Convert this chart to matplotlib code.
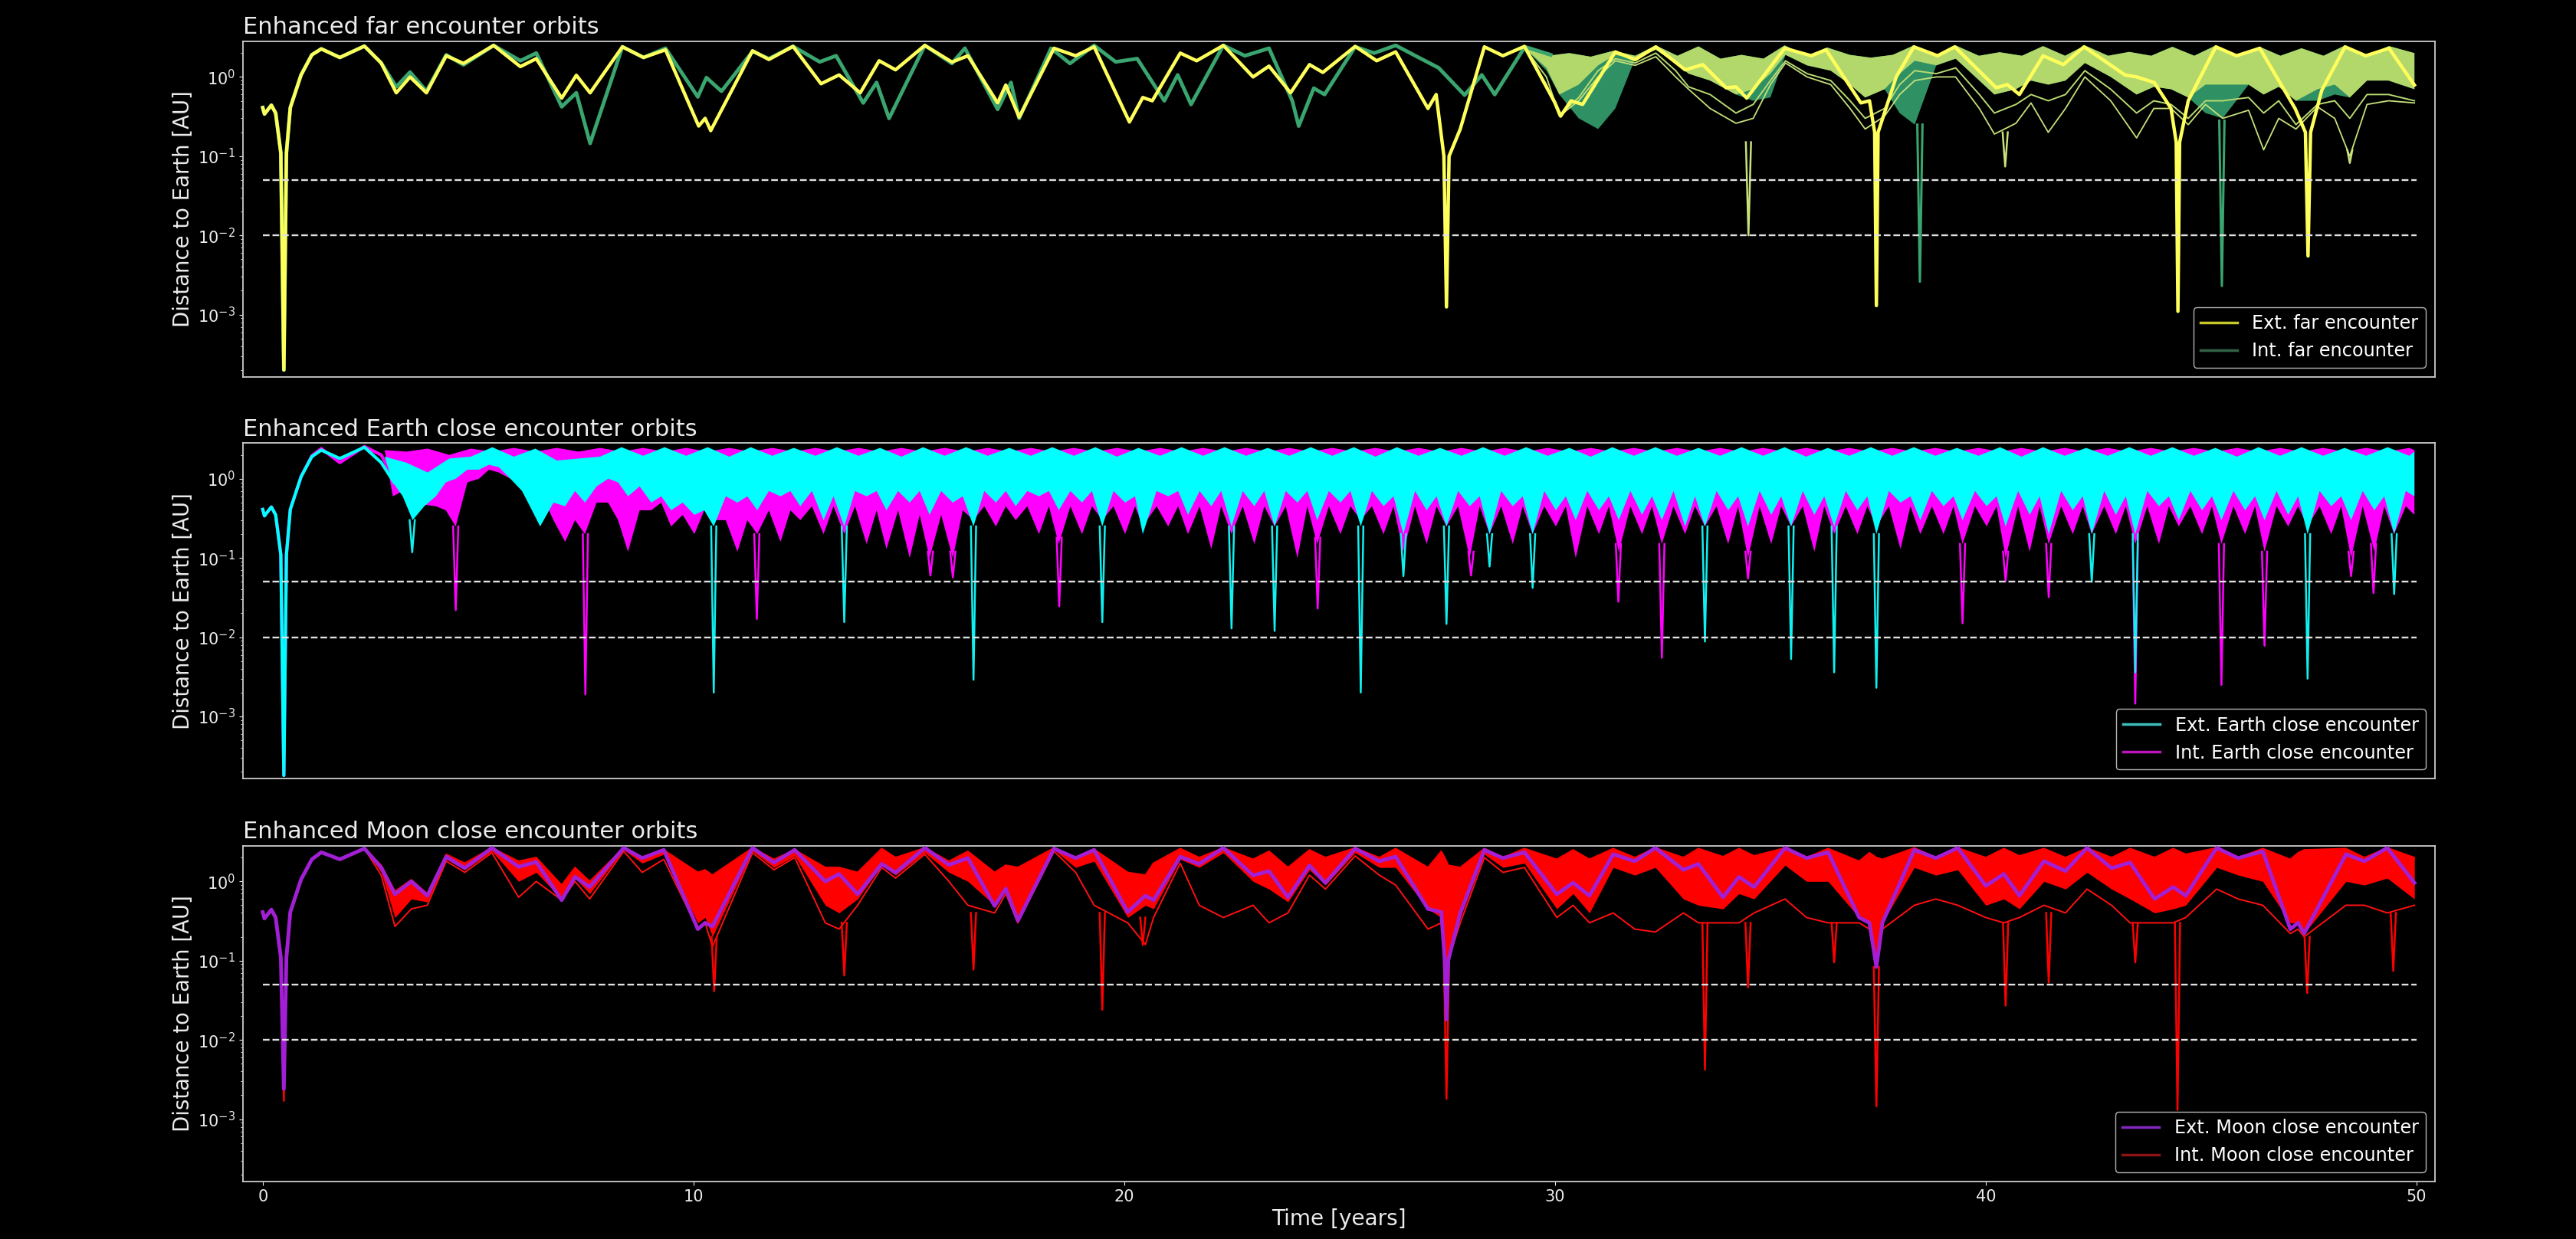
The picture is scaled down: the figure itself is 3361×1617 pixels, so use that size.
import numpy as np
import matplotlib
matplotlib.use("Agg")
import matplotlib.pyplot as plt
from matplotlib.lines import Line2D

plt.style.use("dark_background")

# ---------------- far encounter orbits ----------------
far_ext_t = [0.0, 0.04, 0.2, 0.3, 0.42, 0.49, 0.55, 0.64, 0.89, 1.14,
             1.36, 1.79, 2.36, 2.75, 3.10, 3.42, 3.80, 4.26, 4.66, 5.36,
             5.98, 6.35, 6.94, 7.28, 7.60, 8.35, 8.84, 9.35, 10.12, 10.27,
             10.40, 11.37, 11.75, 12.31, 12.96, 13.38, 13.87, 14.31, 14.69, 15.37,
             16.0, 16.37, 17.06, 17.25, 17.56, 18.37, 18.87, 19.3, 20.12, 20.43,
             20.65, 21.3, 21.68, 22.3, 22.99, 23.36, 23.86, 24.3, 24.61, 25.36,
             25.86, 26.3, 27.05, 27.24, 27.42, 27.48, 27.54, 27.8, 28.36, 28.79,
             29.29, 30.0, 30.13, 30.37, 30.64, 31.4, 31.86, 32.34, 33.02, 33.43,
             33.97, 34.2, 34.45, 35.33, 35.95, 36.29, 37.1, 37.3, 37.42, 37.46,
             37.5, 37.92, 38.33, 38.88, 39.28, 40.24, 40.5, 40.78, 41.33, 41.8,
             42.28, 43.23, 43.5, 43.91, 44.3, 44.42, 44.46, 44.5, 44.7, 45.34,
             45.82, 46.36, 47.18, 47.42, 47.48, 47.54, 47.8, 48.34, 48.82, 49.36,
             49.95]
far_ext_d = [0.41, 0.34, 0.44, 0.35, 0.11, 2.0e-4, 0.11, 0.41, 1.06, 1.9,
             2.26, 1.76, 2.45, 1.5, 0.63, 1.0, 0.63, 1.85, 1.48, 2.5,
             1.35, 1.7, 0.54, 1.05, 0.63, 2.4, 1.76, 2.2, 0.24, 0.3,
             0.21, 2.14, 1.66, 2.43, 0.82, 1.06, 0.63, 1.6, 1.23, 2.5,
             1.54, 1.85, 0.47, 0.79, 0.31, 2.3, 1.85, 2.4, 0.27, 0.55,
             0.5, 2.0, 1.6, 2.5, 1.0, 1.37, 0.63, 1.43, 1.14, 2.43,
             1.6, 2.07, 0.4, 0.6, 0.1, 1.25e-3, 0.1, 0.22, 2.4, 1.85,
             2.43, 0.47, 0.32, 0.5, 0.45, 2.07, 1.65, 2.4, 1.23, 1.43,
             0.73, 0.75, 0.54, 2.3, 1.85, 2.2, 0.47, 0.5, 0.2, 1.3e-3,
             0.2, 1.0, 2.4, 1.85, 2.4, 0.73, 0.8, 0.6, 1.85, 1.43,
             2.4, 1.06, 1.0, 0.85, 0.4, 0.15, 1.1e-3, 0.15, 0.5, 2.4,
             1.85, 2.3, 0.4, 0.2, 5.5e-3, 0.2, 0.68, 2.4, 1.85, 2.3,
             0.79]

far_int_t = [0.0, 0.04, 0.2, 0.3, 0.42, 0.49, 0.55, 0.64, 0.89, 1.14,
             1.36, 1.79, 2.36, 2.75, 3.10, 3.42, 3.80, 4.26, 4.66, 5.36,
             5.98, 6.35, 6.94, 7.28, 7.60, 8.35, 8.84, 9.35, 10.1, 10.3,
             10.65, 11.37, 11.75, 12.31, 12.93, 13.31, 13.94, 14.25, 14.54, 15.37,
             16.0, 16.3, 17.06, 17.37, 17.56, 18.3, 18.74, 19.3, 19.8, 20.3,
             20.93, 21.24, 21.55, 22.3, 22.8, 23.36, 23.9, 24.05, 24.4, 24.65,
             25.36, 25.8, 26.3, 26.8, 27.3, 27.9, 28.3, 28.6, 29.3, 29.9]
far_int_d = [0.41, 0.34, 0.44, 0.35, 0.11, 2.0e-4, 0.11, 0.41, 1.06, 1.9,
             2.26, 1.76, 2.45, 1.5, 0.75, 1.15, 0.66, 1.9, 1.42, 2.5,
             1.6, 2.0, 0.42, 0.63, 0.145, 2.4, 1.76, 2.3, 0.56, 0.98,
             0.66, 2.1, 1.7, 2.43, 1.55, 1.85, 0.47, 0.85, 0.3, 2.5,
             1.48, 2.3, 0.39, 0.85, 0.3, 2.3, 1.48, 2.5, 1.55, 1.7,
             0.5, 1.06, 0.45, 2.5, 1.85, 2.3, 0.5, 0.24, 0.72, 0.6,
             2.4, 2.0, 2.5, 1.8, 1.3, 0.59, 1.06, 0.6, 2.4, 1.9]

# upper envelope of the spread-out orbits (t > 29)
far_env_t = [29.29, 29.83, 30.33, 30.83, 31.36, 31.86, 32.34, 32.84, 33.33, 33.84,
             34.33, 34.84, 35.33, 35.84, 36.32, 36.84, 37.33, 37.84, 38.33, 38.84,
             39.3, 39.84, 40.32, 40.84, 41.33, 41.84, 42.3, 42.84, 43.33, 43.84,
             44.33, 44.84, 45.34, 45.84, 46.36, 46.84, 47.33, 47.84, 48.34, 48.84,
             49.36, 49.95]
far_env_d = [2.43, 1.85, 2.0, 1.8, 2.14, 1.85, 2.5, 1.85, 2.43, 1.7,
             1.9, 1.7, 2.5, 1.85, 2.35, 1.9, 1.75, 1.9, 2.5, 1.85,
             2.5, 1.85, 2.05, 1.85, 2.45, 1.85, 2.5, 1.85, 2.07, 1.85,
             2.4, 1.85, 2.5, 1.85, 2.4, 1.85, 2.3, 1.85, 2.5, 1.85,
             2.45, 2.0]
# lower edges of the spread: dense part, then two thin outlying orbits
far_band_t = [29.3, 29.8, 30.1, 30.55, 31.0, 31.4, 31.86, 32.34, 32.8, 33.1,
              33.6, 34.2, 34.6, 35.0, 35.35, 35.85, 36.4, 36.85, 37.2, 37.65,
              38.0, 38.35, 38.85, 39.3, 39.85, 40.2, 40.7, 41.05, 41.45, 41.85,
              42.3, 42.9, 43.5, 43.9, 44.3, 44.7, 45.1, 45.5, 46.1, 46.45,
              46.8, 47.2, 47.7, 48.1, 48.45, 48.85, 49.35, 49.95]
far_ext_core = [2.3, 1.3, 0.6, 0.8, 1.4, 1.9, 1.7, 2.2, 1.5, 1.1,
                0.9, 0.6, 0.7, 1.1, 1.9, 1.4, 1.2, 0.8, 0.55, 0.7,
                1.1, 1.6, 1.4, 1.7, 0.9, 0.6, 0.7, 0.9, 0.8, 0.9,
                1.5, 1.0, 0.6, 0.75, 0.7, 0.55, 0.8, 0.8, 0.8, 0.6,
                0.75, 0.5, 0.7, 0.8, 0.55, 0.9, 0.9, 0.7]
far_ext_mid = [2.3, 1.0, 0.33, 0.55, 1.2, 1.7, 1.5, 2.0, 1.2, 0.75,
               0.6, 0.35, 0.45, 0.9, 1.6, 1.1, 0.9, 0.5, 0.3, 0.4,
               0.8, 1.2, 1.1, 1.3, 0.6, 0.35, 0.45, 0.6, 0.5, 0.6,
               1.2, 0.7, 0.35, 0.5, 0.45, 0.3, 0.5, 0.5, 0.55, 0.35,
               0.5, 0.25, 0.45, 0.5, 0.3, 0.6, 0.6, 0.5]
far_ext_fan = [2.3, 0.8, 0.32, 0.5, 1.0, 1.6, 1.4, 1.8, 1.0, 0.7,
               0.4, 0.26, 0.3, 0.8, 1.5, 1.0, 0.8, 0.4, 0.22, 0.32,
               0.6, 0.9, 1.0, 1.0, 0.4, 0.19, 0.26, 0.47, 0.2, 0.4,
               1.0, 0.5, 0.17, 0.4, 0.4, 0.25, 0.45, 0.3, 0.38, 0.12,
               0.3, 0.22, 0.42, 0.3, 0.1, 0.45, 0.5, 0.47]
far_int_core = [2.3, 1.2, 0.6, 0.3, 0.22, 0.4, 1.7, 2.2, 1.5, 1.1,
                0.9, 0.6, 0.5, 0.55, 1.9, 1.4, 1.2, 0.8, 0.55, 0.7,
                0.35, 0.25, 1.4, 1.7, 0.9, 0.6, 0.7, 0.9, 0.8, 0.9,
                1.5, 1.0, 0.6, 0.75, 0.7, 0.55, 0.35, 0.3, 0.8, 0.6,
                0.75, 0.5, 0.5, 0.6, 0.55, 0.9, 0.9, 0.7]

far_ext_spk_t = [34.49, 40.45, 48.45]
far_ext_spk_top = [0.15, 0.2, 0.12]
far_ext_spk_d = [0.01, 0.074, 0.082]
far_int_spk_t = [38.47, 45.48]
far_int_spk_top = [0.25, 0.28]
far_int_spk_d = [2.6e-3, 2.3e-3]

# ---------------- Earth close encounter orbits ----------------
near_nom_t = [0.0, 0.04, 0.2, 0.3, 0.42, 0.49, 0.55, 0.64, 0.89, 1.14,
              1.36, 1.79, 2.36, 2.75, 3.05]
near_ext_nom_d = [0.41, 0.34, 0.44, 0.35, 0.11, 1.8e-4, 0.11, 0.41, 1.06, 1.9,
                  2.3, 1.8, 2.5, 1.6, 0.9]
near_int_nom_d = [0.41, 0.34, 0.44, 0.35, 0.11, 1.8e-4, 0.11, 0.41, 1.06, 1.95,
                  2.4, 1.6, 2.55, 2.0, 1.0]

near_env_t = [2.83,
              3.33, 3.83, 4.33, 4.83, 5.33, 5.83, 6.33, 6.83, 7.33, 7.83,
              8.33, 8.83, 9.33, 9.83, 10.33, 10.83, 11.33, 11.83, 12.33, 12.83,
              13.33, 13.83, 14.33, 14.83, 15.33, 15.83, 16.33, 16.83, 17.33, 17.83,
              18.33, 18.83, 19.33, 19.83, 20.33, 20.83, 21.33, 21.83, 22.33, 22.83,
              23.33, 23.83, 24.33, 24.83, 25.33, 25.83, 26.33, 26.83, 27.33, 27.83,
              28.33, 28.83, 29.33, 29.83, 30.33, 30.83, 31.33, 31.83, 32.33, 32.83,
              33.33, 33.83, 34.33, 34.83, 35.33, 35.83, 36.33, 36.83, 37.33, 37.83,
              38.33, 38.83, 39.33, 39.83, 40.33, 40.83, 41.33, 41.83, 42.33, 42.83,
              43.33, 43.83, 44.33, 44.83, 45.33, 45.83, 46.33, 46.83, 47.33, 47.83,
              48.33, 48.83, 49.33, 49.83, 49.95]
near_ext_env = [1.9,
                1.6, 1.2, 1.8, 1.9, 2.5, 1.9, 2.4, 1.7, 1.8, 1.9,
                2.5, 1.95, 2.5, 1.95, 2.5, 1.9, 2.5, 1.95, 2.45, 1.95,
                2.5, 1.95, 2.45, 1.9, 2.5, 1.95, 2.5, 1.95, 2.45, 1.95,
                2.5, 1.95, 2.5, 1.9, 2.45, 1.95, 2.5, 1.95, 2.5, 1.95,
                2.45, 1.95, 2.5, 1.95, 2.5, 1.9, 2.5, 1.95, 2.45, 1.95,
                2.5, 1.95, 2.5, 1.95, 2.45, 1.9, 2.5, 1.95, 2.5, 1.95,
                2.45, 1.95, 2.5, 1.95, 2.5, 1.9, 2.45, 1.95, 2.5, 1.95,
                2.5, 1.95, 2.45, 1.95, 2.5, 1.9, 2.5, 1.95, 2.45, 1.95,
                2.5, 1.95, 2.5, 1.95, 2.45, 1.9, 2.5, 1.95, 2.5, 1.95,
                2.45, 1.95, 2.5, 1.95, 2.2]
near_int_env = [2.3,
                2.2, 2.4, 2.0, 2.4, 2.2, 2.45, 2.2, 2.45, 2.2, 2.45,
                2.2, 2.45, 2.2, 2.45, 2.2, 2.45, 2.2, 2.45, 2.2, 2.45,
                2.2, 2.45, 2.2, 2.45, 2.2, 2.45, 2.2, 2.45, 2.2, 2.45,
                2.2, 2.45, 2.2, 2.45, 2.2, 2.45, 2.2, 2.45, 2.2, 2.45,
                2.2, 2.45, 2.2, 2.45, 2.2, 2.45, 2.2, 2.45, 2.2, 2.45,
                2.2, 2.45, 2.2, 2.45, 2.2, 2.45, 2.2, 2.45, 2.2, 2.45,
                2.2, 2.45, 2.2, 2.45, 2.2, 2.45, 2.2, 2.45, 2.2, 2.45,
                2.2, 2.45, 2.2, 2.45, 2.2, 2.45, 2.2, 2.45, 2.2, 2.45,
                2.2, 2.45, 2.2, 2.45, 2.2, 2.45, 2.2, 2.45, 2.2, 2.45,
                2.2, 2.45, 2.2, 2.45, 2.3]

near_lo_t = [3.02, 3.25, 3.48, 3.75, 4.02, 4.25, 4.48, 4.75,
             5.02, 5.25, 5.48, 5.75, 6.02, 6.25, 6.44, 6.75,
             7.02, 7.25, 7.48, 7.75, 8.02, 8.25, 8.48, 8.75,
             9.02, 9.25, 9.48, 9.75, 10.02, 10.25, 10.47, 10.75,
             11.02, 11.25, 11.48, 11.75, 12.02, 12.25, 12.48, 12.75,
             13.02, 13.25, 13.5, 13.75, 14.02, 14.25, 14.48, 14.75,
             15.02, 15.25, 15.48, 15.75, 16.02, 16.25, 16.5, 16.75,
             17.02, 17.25, 17.48, 17.75, 18.02, 18.25, 18.48, 18.75,
             19.02, 19.25, 19.49, 19.75, 20.02, 20.25, 20.43, 20.75,
             21.02, 21.25, 21.48, 21.75, 22.02, 22.25, 22.49, 22.75,
             23.02, 23.25, 23.49, 23.75, 24.02, 24.25, 24.48, 24.75,
             25.02, 25.25, 25.49, 25.75, 26.02, 26.25, 26.48, 26.75,
             27.02, 27.25, 27.48, 27.75, 28.02, 28.25, 28.48, 28.75,
             29.02, 29.25, 29.48, 29.75, 30.02, 30.25, 30.48, 30.75,
             31.02, 31.25, 31.48, 31.75, 32.02, 32.25, 32.48, 32.75,
             33.02, 33.25, 33.48, 33.75, 34.02, 34.25, 34.48, 34.75,
             35.02, 35.25, 35.48, 35.75, 36.02, 36.25, 36.48, 36.75,
             37.02, 37.25, 37.46, 37.75, 38.02, 38.25, 38.48, 38.75,
             39.02, 39.25, 39.46, 39.75, 40.02, 40.25, 40.46, 40.75,
             41.02, 41.25, 41.46, 41.75, 42.02, 42.25, 42.46, 42.75,
             43.02, 43.25, 43.47, 43.75, 44.02, 44.25, 44.48, 44.75,
             45.02, 45.25, 45.47, 45.75, 46.02, 46.25, 46.47, 46.75,
             47.02, 47.25, 47.47, 47.75, 48.02, 48.25, 48.48, 48.75,
             49.02, 49.25, 49.48, 49.75, 49.95]
near_ext_lo = [0.9, 0.6, 0.3, 0.45, 0.6, 0.9, 1.0, 1.3,
               1.3, 1.5, 1.4, 1.0, 0.7, 0.4, 0.25, 0.5,
               0.45, 0.7, 0.5, 0.8, 1.0, 0.9, 0.6, 0.8,
               0.5, 0.6, 0.4, 0.5, 0.35, 0.4, 0.25, 0.6,
               0.5, 0.6, 0.4, 0.7, 0.6, 0.7, 0.45, 0.7,
               0.3, 0.6, 0.25, 0.7, 0.6, 0.7, 0.4, 0.7,
               0.5, 0.7, 0.35, 0.7, 0.5, 0.6, 0.25, 0.7,
               0.5, 0.7, 0.45, 0.7, 0.6, 0.7, 0.4, 0.7,
               0.5, 0.7, 0.25, 0.7, 0.5, 0.6, 0.2, 0.7,
               0.6, 0.7, 0.35, 0.7, 0.45, 0.7, 0.25, 0.7,
               0.45, 0.7, 0.25, 0.7, 0.5, 0.7, 0.3, 0.7,
               0.5, 0.7, 0.25, 0.7, 0.45, 0.6, 0.2, 0.7,
               0.4, 0.6, 0.25, 0.7, 0.45, 0.6, 0.2, 0.7,
               0.45, 0.6, 0.2, 0.7, 0.4, 0.6, 0.3, 0.7,
               0.4, 0.6, 0.3, 0.7, 0.35, 0.6, 0.3, 0.7,
               0.25, 0.6, 0.25, 0.7, 0.4, 0.6, 0.25, 0.7,
               0.35, 0.6, 0.25, 0.7, 0.35, 0.6, 0.25, 0.7,
               0.4, 0.6, 0.2, 0.7, 0.5, 0.6, 0.3, 0.7,
               0.45, 0.6, 0.3, 0.7, 0.45, 0.6, 0.25, 0.7,
               0.35, 0.6, 0.2, 0.7, 0.4, 0.6, 0.2, 0.7,
               0.35, 0.6, 0.2, 0.7, 0.45, 0.6, 0.3, 0.7,
               0.4, 0.6, 0.3, 0.7, 0.4, 0.6, 0.3, 0.7,
               0.35, 0.6, 0.2, 0.7, 0.45, 0.6, 0.3, 0.7,
               0.4, 0.6, 0.2, 0.7, 0.6]
near_int_lo = [0.6, 0.7, 0.5, 0.47, 0.45, 0.4, 0.25, 0.9,
               1.0, 1.3, 1.2, 1.0, 0.9, 0.9, 0.7, 0.3,
               0.16, 0.3, 0.2, 0.5, 0.5, 0.3, 0.12, 0.4,
               0.4, 0.5, 0.25, 0.35, 0.2, 0.4, 0.3, 0.3,
               0.12, 0.3, 0.2, 0.4, 0.16, 0.4, 0.3, 0.45,
               0.2, 0.45, 0.2, 0.45, 0.15, 0.4, 0.13, 0.4,
               0.1, 0.35, 0.1, 0.35, 0.1, 0.4, 0.3, 0.45,
               0.25, 0.45, 0.3, 0.45, 0.2, 0.45, 0.15, 0.45,
               0.2, 0.45, 0.3, 0.45, 0.2, 0.45, 0.25, 0.45,
               0.25, 0.45, 0.2, 0.45, 0.13, 0.45, 0.2, 0.45,
               0.15, 0.45, 0.25, 0.45, 0.1, 0.45, 0.15, 0.45,
               0.2, 0.45, 0.3, 0.45, 0.2, 0.45, 0.12, 0.45,
               0.15, 0.45, 0.25, 0.45, 0.1, 0.45, 0.2, 0.45,
               0.15, 0.45, 0.2, 0.45, 0.25, 0.45, 0.1, 0.45,
               0.2, 0.45, 0.12, 0.45, 0.2, 0.45, 0.15, 0.45,
               0.2, 0.45, 0.25, 0.45, 0.15, 0.45, 0.1, 0.45,
               0.15, 0.45, 0.25, 0.45, 0.12, 0.45, 0.2, 0.45,
               0.2, 0.45, 0.25, 0.45, 0.13, 0.45, 0.2, 0.45,
               0.2, 0.45, 0.15, 0.45, 0.25, 0.45, 0.1, 0.45,
               0.12, 0.45, 0.15, 0.45, 0.2, 0.45, 0.2, 0.45,
               0.2, 0.45, 0.15, 0.45, 0.15, 0.45, 0.25, 0.45,
               0.2, 0.45, 0.15, 0.45, 0.2, 0.45, 0.12, 0.45,
               0.25, 0.45, 0.25, 0.45, 0.2, 0.45, 0.1, 0.45,
               0.12, 0.45, 0.2, 0.45, 0.35]

near_ext_spk_t = [3.47, 10.47, 13.5, 16.5, 19.49, 22.49, 23.49, 25.49, 26.48, 27.48,
                  28.48, 29.48, 33.48, 35.48, 36.48, 37.46, 42.46, 43.47, 47.47, 49.48]
near_ext_spk_top = [0.3, 0.25, 0.25, 0.25, 0.25, 0.25, 0.25, 0.25, 0.2, 0.25,
                    0.2, 0.2, 0.25, 0.25, 0.25, 0.2, 0.2, 0.2, 0.2, 0.2]
near_ext_spk_d = [0.118, 2.0e-3, 0.0155, 2.9e-3, 0.0155, 0.0129, 0.012, 2.0e-3, 0.059, 0.0147,
                  0.078, 0.042, 8.8e-3, 5.3e-3, 3.6e-3, 2.3e-3, 0.05, 3.6e-3, 3.0e-3, 0.035]
near_int_spk_t = [4.48, 7.49, 11.47, 15.5, 16.02, 18.49, 24.49, 28.05, 31.47, 32.48,
                  34.48, 39.46, 40.46, 41.46, 43.47, 45.47, 46.47, 48.48, 49.0]
near_int_spk_top = [0.25, 0.2, 0.2, 0.12, 0.12, 0.18, 0.18, 0.12, 0.15, 0.15,
                    0.12, 0.15, 0.12, 0.15, 0.15, 0.15, 0.12, 0.12, 0.15]
near_int_spk_d = [0.022, 1.9e-3, 0.017, 0.06, 0.057, 0.0246, 0.023, 0.06, 0.028, 5.5e-3,
                  0.055, 0.015, 0.051, 0.032, 1.45e-3, 2.5e-3, 7.8e-3, 0.059, 0.036]

# ---------------- Moon close encounter orbits ----------------
moon_t = [0.0, 0.04, 0.2, 0.3, 0.42, 0.49, 0.55, 0.64, 0.89, 1.14,
          1.36, 1.79, 2.36, 2.75, 3.07, 3.45, 3.82, 4.26, 4.69, 5.32,
          5.94, 6.35, 6.94, 7.25, 7.59, 8.38, 8.81, 9.31, 10.1, 10.27,
          10.44, 11.37, 11.87, 12.35, 13.06, 13.38, 13.81, 14.37, 14.69, 15.37,
          15.93, 16.37, 16.99, 17.25, 17.53, 18.37, 18.87, 19.3, 20.08, 20.49,
          20.68, 21.3, 21.74, 22.3, 22.99, 23.36, 23.8, 24.3, 24.67, 25.36,
          25.92, 26.3, 27.05, 27.36, 27.44, 27.48, 27.52, 27.8, 28.36, 28.79,
          29.29, 30.04, 30.42, 30.8, 31.35, 31.85, 32.33, 32.98, 33.33, 33.9,
          34.27, 34.62, 35.34, 35.84, 36.34, 37.06, 37.3, 37.46, 37.6, 38.34,
          38.84, 39.35, 40.0, 40.42, 40.78, 41.35, 41.85, 42.35, 42.92, 43.35,
          43.92, 44.35, 44.64, 45.36, 45.86, 46.43, 47.07, 47.25, 47.39, 48.36,
          48.79, 49.32, 49.95]
moon_ext_d = [0.41, 0.34, 0.44, 0.35, 0.11, 2.4e-3, 0.11, 0.41, 1.06, 1.9,
              2.33, 1.9, 2.6, 1.5, 0.69, 1.0, 0.66, 2.05, 1.47, 2.65,
              1.53, 1.76, 0.58, 1.14, 0.85, 2.65, 1.97, 2.5, 0.25, 0.3,
              0.27, 2.65, 1.73, 2.5, 1.0, 1.24, 0.69, 1.66, 1.29, 2.65,
              1.62, 1.97, 0.49, 0.81, 0.32, 2.6, 1.97, 2.5, 0.41, 0.66,
              0.58, 2.05, 1.66, 2.65, 1.19, 1.35, 0.63, 1.59, 0.96, 2.6,
              1.8, 2.05, 0.45, 0.41, 0.1, 0.018, 0.1, 0.4, 2.5, 1.97,
              2.33, 0.69, 0.96, 0.66, 2.2, 1.8, 2.65, 1.4, 1.66, 0.63,
              1.14, 0.85, 2.65, 1.97, 2.33, 0.35, 0.3, 0.083, 0.3, 2.5,
              1.97, 2.65, 0.88, 1.24, 0.66, 1.8, 1.35, 2.65, 1.47, 1.73,
              0.6, 0.85, 0.66, 2.65, 1.97, 2.4, 0.25, 0.3, 0.22, 2.2,
              1.8, 2.65, 0.96]
moon_int_hi = [0.41, 0.34, 0.44, 0.35, 0.11, 2.4e-3, 0.11, 0.41, 1.06, 1.9,
               2.33, 1.9, 2.6, 1.6, 0.75, 1.05, 0.7, 2.2, 1.7, 2.65,
               1.8, 2.0, 0.9, 1.5, 1.0, 2.65, 2.0, 2.5, 1.3, 1.4,
               1.2, 2.65, 1.9, 2.5, 1.5, 1.5, 1.3, 2.6, 2.0, 2.65,
               1.8, 2.4, 1.3, 1.6, 1.5, 2.65, 2.0, 2.55, 1.3, 1.2,
               1.7, 2.6, 2.0, 2.65, 1.9, 2.4, 1.5, 2.5, 2.0, 2.65,
               2.0, 2.6, 1.5, 2.4, 2.0, 1.8, 1.6, 1.5, 2.6, 2.0,
               2.6, 1.9, 2.5, 1.9, 2.6, 2.0, 2.65, 2.0, 2.6, 2.05,
               2.6, 2.1, 2.65, 2.0, 2.6, 1.8, 2.3, 2.0, 1.9, 2.65,
               2.0, 2.65, 2.0, 2.6, 2.1, 2.6, 2.0, 2.65, 2.0, 2.6,
               2.0, 2.6, 2.2, 2.65, 2.0, 2.6, 1.9, 2.3, 2.5, 2.6,
               2.0, 2.65, 2.0]
moon_int_lo = [0.41, 0.34, 0.44, 0.35, 0.11, 2.4e-3, 0.11, 0.41, 1.06, 1.9,
               2.33, 1.9, 2.6, 1.3, 0.35, 0.6, 0.55, 1.9, 1.4, 2.4,
               1.0, 1.3, 0.6, 1.1, 0.7, 2.5, 1.7, 2.2, 0.3, 0.35,
               0.2, 2.4, 1.5, 2.1, 0.5, 0.4, 0.6, 1.6, 1.2, 2.3,
               1.3, 1.0, 0.5, 0.8, 0.3, 2.5, 1.5, 1.8, 0.35, 0.5,
               0.45, 1.9, 1.5, 2.3, 1.0, 0.8, 0.55, 1.4, 0.9, 2.3,
               1.5, 1.5, 0.45, 0.35, 0.1, 0.018, 0.1, 0.35, 2.2, 1.5,
               1.7, 0.45, 0.7, 0.4, 1.5, 1.2, 1.5, 0.6, 0.5, 0.45,
               0.7, 0.6, 1.6, 1.0, 1.0, 0.35, 0.3, 0.083, 0.3, 1.5,
               1.2, 1.4, 0.5, 0.6, 0.45, 1.0, 0.8, 1.3, 0.8, 0.6,
               0.4, 0.45, 0.5, 1.5, 1.2, 1.0, 0.3, 0.3, 0.22, 1.0,
               0.9, 1.1, 0.6]
moon_int_fan = [0.41, 0.34, 0.44, 0.35, 0.11, 2.4e-3, 0.11, 0.41, 1.06, 1.9,
                2.33, 1.9, 2.6, 1.2, 0.27, 0.45, 0.5, 1.8, 1.3, 2.3,
                0.63, 1.0, 0.58, 1.0, 0.6, 2.4, 1.3, 1.9, 0.25, 0.3,
                0.15, 2.3, 1.4, 2.0, 0.3, 0.25, 0.5, 1.5, 1.1, 2.2,
                1.0, 0.5, 0.4, 0.7, 0.3, 2.4, 1.3, 0.5, 0.3, 0.16,
                0.35, 1.7, 0.5, 0.35, 0.5, 0.3, 0.4, 1.2, 0.8, 2.1,
                1.2, 0.9, 0.25, 0.3, 0.1, 0.018, 0.1, 0.3, 2.0, 1.3,
                1.5, 0.35, 0.5, 0.3, 0.4, 0.25, 0.23, 0.4, 0.3, 0.3,
                0.3, 0.4, 0.6, 0.35, 0.3, 0.3, 0.25, 0.083, 0.25, 0.5,
                0.6, 0.5, 0.35, 0.3, 0.35, 0.5, 0.4, 0.8, 0.5, 0.3,
                0.3, 0.3, 0.35, 0.8, 0.6, 0.5, 0.22, 0.25, 0.2, 0.5,
                0.5, 0.4, 0.5]

moon_int_spk_t = [0.49, 10.48, 13.5, 16.5, 19.49, 20.43, 27.48, 33.48, 34.48, 36.48,
                  37.46, 40.46, 41.46, 43.47, 44.45, 47.46, 49.46]
moon_int_spk_top = [0.11, 0.2, 0.3, 0.4, 0.4, 0.35, 0.1, 0.3, 0.3, 0.3,
                    0.083, 0.3, 0.4, 0.3, 0.3, 0.2, 0.4]
moon_int_spk_d = [1.7e-3, 0.041, 0.065, 0.077, 0.024, 0.157, 1.8e-3, 4.2e-3, 0.046, 0.095,
                  1.45e-3, 0.027, 0.053, 0.095, 1.3e-3, 0.039, 0.074]

thresholds = [0.05, 0.01]


def spikes(ax, t, top, d, color, lw=1.8, w=0.06, z=4):
    for ti, tp, di in zip(t, top, d):
        ax.plot([ti - w, ti, ti + w], [tp, di, tp], color=color, lw=lw, zorder=z)


def band(ax, t_up, d_up, t_lo, d_lo, color, z):
    xs = np.concatenate([t_up, t_lo[::-1]])
    ys = np.concatenate([d_up, d_lo[::-1]])
    ax.fill(xs, ys, color=color, lw=0, zorder=z)


fig = plt.figure(figsize=(33.61, 16.17), dpi=100)
fig.patch.set_facecolor("black")
ax_far = fig.add_axes([0.0943, 0.6957, 0.851, 0.2709])
ax_near = fig.add_axes([0.0943, 0.3714, 0.851, 0.2709])
ax_moon = fig.add_axes([0.0943, 0.0464, 0.851, 0.2709])

# far encounter
band(ax_far, far_env_t, far_env_d, far_band_t, far_int_core, "#2f9163", 1)
band(ax_far, far_env_t, far_env_d, far_band_t, far_ext_core, "#b2d86c", 2)
ax_far.plot(far_band_t, far_ext_mid, color="#b8da72", lw=1.4, zorder=2)
ax_far.plot(far_band_t, far_ext_fan, color="#c6e07a", lw=1.3, zorder=2)
ax_far.plot(far_int_t, far_int_d, color="#3aa56e", lw=3.5, zorder=3)
ax_far.plot(far_ext_t, far_ext_d, color="#ffff5c", lw=3.2, zorder=4)
spikes(ax_far, far_ext_spk_t, far_ext_spk_top, far_ext_spk_d, "#c8e27a")
spikes(ax_far, far_int_spk_t, far_int_spk_top, far_int_spk_d, "#3aa56e", lw=2.2)

# Earth close encounter
band(ax_near, near_env_t, near_int_env, near_lo_t, near_int_lo, "#ff00ff", 1)
ax_near.plot(near_nom_t, near_int_nom_d, color="#ff00ff", lw=3.0, zorder=1)
spikes(ax_near, near_int_spk_t, near_int_spk_top, near_int_spk_d, "#ff00ff", z=2)
band(ax_near, near_env_t, near_ext_env, near_lo_t, near_ext_lo, "#00ffff", 3)
ax_near.plot(near_nom_t, near_ext_nom_d, color="#00ffff", lw=3.0, zorder=3)
spikes(ax_near, near_ext_spk_t, near_ext_spk_top, near_ext_spk_d, "#10f0f0", z=4)

# Moon close encounter
ax_moon.fill_between(moon_t, moon_int_lo, moon_int_hi, color="#ff0000", lw=0, zorder=1)
ax_moon.plot(moon_t, moon_int_hi, color="#ff0000", lw=1.4, zorder=1)
ax_moon.plot(moon_t, moon_int_fan, color="#ff1010", lw=1.4, zorder=1)
spikes(ax_moon, moon_int_spk_t, moon_int_spk_top, moon_int_spk_d, "#ff0000", z=2)
ax_moon.plot(moon_t, moon_ext_d, color="#a21fd6", lw=3.5, zorder=3)

titles = ["Enhanced far encounter orbits",
          "Enhanced Earth close encounter orbits",
          "Enhanced Moon close encounter orbits"]
legends = [(("Ext. far encounter", "#c8c828"), ("Int. far encounter", "#326446")),
           (("Ext. Earth close encounter", "#3cbebe"), ("Int. Earth close encounter", "#be14be")),
           (("Ext. Moon close encounter", "#8228be"), ("Int. Moon close encounter", "#8c1414"))]

for ax, title, leg in zip([ax_far, ax_near, ax_moon], titles, legends):
    ax.set_facecolor("black")
    ax.set_yscale("log")
    ax.set_xlim(-0.46, 50.43)
    ax.set_ylim(1.63e-4, 2.81)
    ax.hlines(thresholds, 0, 50, colors="0.88", linestyles="--", lw=1.7, zorder=6)
    ax.set_title(title, loc="left", fontsize=22, color="0.92", pad=7)
    ax.set_ylabel("Distance to Earth [AU]", fontsize=19.8, color="0.92")
    ax.tick_params(axis="both", labelsize=15, colors="0.92")
    for sp in ax.spines.values():
        sp.set_color("0.8")
        sp.set_linewidth(1.3)
    handles = [Line2D([], [], color=c, lw=2.5) for _, c in leg]
    ax.legend(handles, [l for l, _ in leg], loc="lower right", fontsize=17.3,
              facecolor="black", edgecolor="0.7", framealpha=1.0)

for ax in (ax_far, ax_near):
    ax.tick_params(axis="x", bottom=False, labelbottom=False)
ax_moon.set_xticks([0, 10, 20, 30, 40, 50])
ax_moon.set_xlabel("Time [years]", fontsize=20.2, color="0.92")

fig.savefig("out.png", dpi=100, facecolor="black")
